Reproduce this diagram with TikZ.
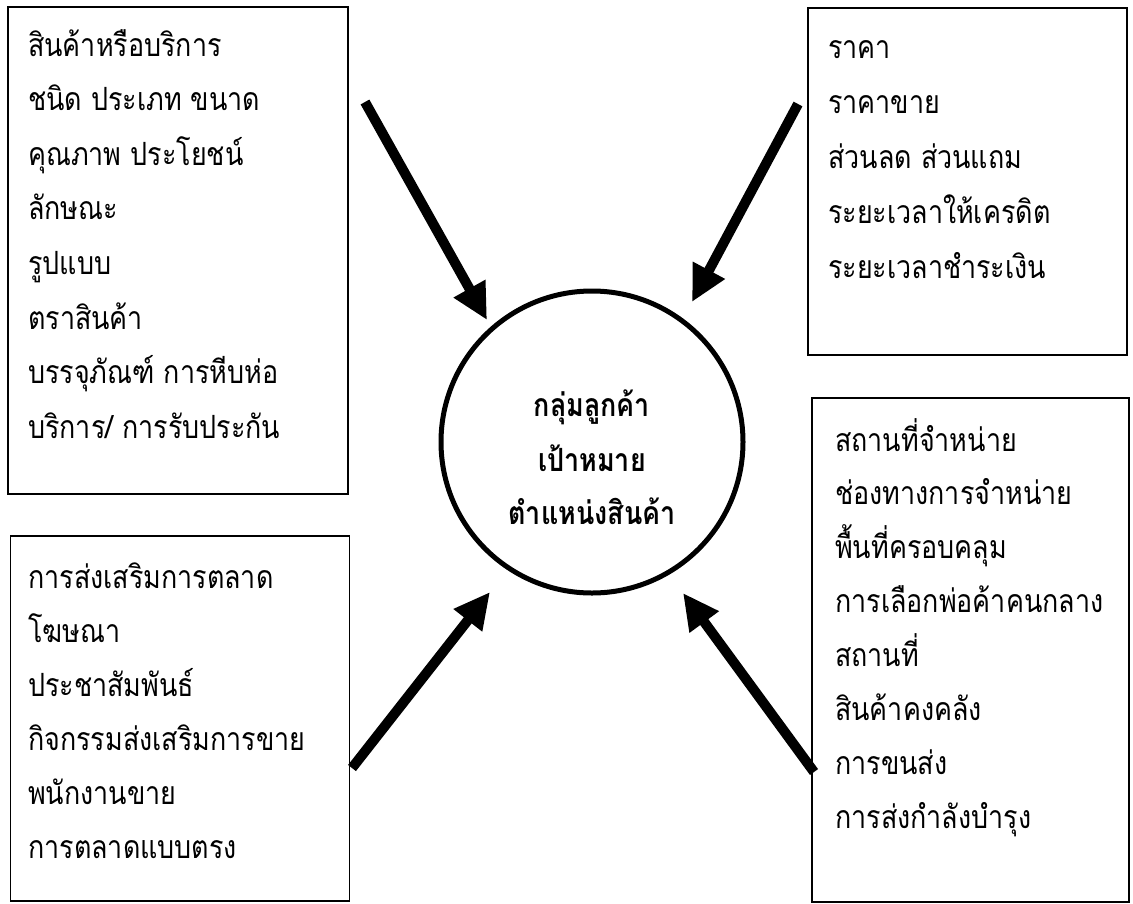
\documentclass[tikz,border=0pt]{standalone}
\usepackage{fontspec}
\newfontfamily\thaifont[Script=Thai, FakeStretch=0.84]{Loma}
\usetikzlibrary{arrows.meta}

\tikzset{
	listbox/.style={draw, line width=1.4pt, inner sep=0pt},
	item/.style={anchor=base west, inner sep=0pt, font=\thaifont\fontsize{32}{32}\selectfont},
	hubitem/.style={anchor=base, inner sep=0pt, font=\thaifont\bfseries\fontsize{32}{32}\selectfont},
	bigarrow/.style={-{Triangle[width=34pt, length=36pt]}, line width=10pt},
}

\begin{document}
\begin{tikzpicture}[x=1pt, y=-1pt]
					\useasboundingbox (0,0) rectangle (1133,903);

					% The four boxes
						\node [listbox, minimum width=340pt, minimum height=487pt] (product) at (178,250.5) {};
						\node [listbox, minimum width=319pt, minimum height=347pt] (price) at (967.5,181.5) {};
						\node [listbox, minimum width=339pt, minimum height=365pt] (promotion) at (180,718.5) {};
						\node [listbox, minimum width=317pt, minimum height=504pt] (place) at (970.5,650) {};

					% Texts of the boxes
						\foreach \txt [count=\i] in {สินค้าหรือบริการ, ชนิด ประเภท ขนาด, คุณภาพ ประโยชน์, ลักษณะ, รูปแบบ, ตราสินค้า, บรรจุภัณฑ์ การหีบห่อ, บริการ/ การรับประกัน} {
							\node [item] (product\i) at (28, {56 + (\i - 1) * 54.6}) {\txt};
							}
						\foreach \txt [count=\i] in {ราคา, ราคาขาย, ส่วนลด ส่วนแถม, ระยะเวลาให้เครดิต, ระยะเวลาชำระเงิน} {
							\node [item] (price\i) at (828, {58 + (\i - 1) * 55.2}) {\txt};
							}
						\foreach \txt [count=\i] in {การส่งเสริมการตลาด, โฆษณา, ประชาสัมพันธ์, กิจกรรมส่งเสริมการขาย, พนักงานขาย, การตลาดแบบตรง} {
							\node [item] (promotion\i) at (28, {588 + (\i - 1) * 54}) {\txt};
							}
						\foreach \txt [count=\i] in {สถานที่จำหน่าย, ช่องทางการจำหน่าย, พื้นที่ครอบคลุม, การเลือกพ่อค้าคนกลาง, สถานที่, สินค้าคงคลัง, การขนส่ง, การส่งกำลังบำรุง} {
							\node [item] (place\i) at (835, {451 + (\i - 1) * 53.9}) {\txt};
							}

					% The circle in the middle
						\node [draw, circle, line width=5pt, minimum size=302pt] (hub) at (592,442) {};
						\foreach \txt/\y [count=\i] in {กลุ่มลูกค้า/416, เป้าหมาย/471, ตำแหน่งสินค้า/524} {
							\node [hubitem] (hub\i) at (592,\y) {\txt};
							}

					% The four arrows
						\coordinate (productTail) at (365,102);
						\coordinate (productTip) at (487,320);
						\coordinate (priceTail) at (798,104);
						\coordinate (priceTip) at (692,302);
						\coordinate (promotionTail) at (352,768);
						\coordinate (promotionTip) at (490,592);
						\coordinate (placeTail) at (814,772);
						\coordinate (placeTip) at (683,593);
						\foreach \s in {product, price, promotion, place} {
							\draw [bigarrow] (\s Tail) -- (\s Tip);
							}

					\end{tikzpicture}
\end{document}
